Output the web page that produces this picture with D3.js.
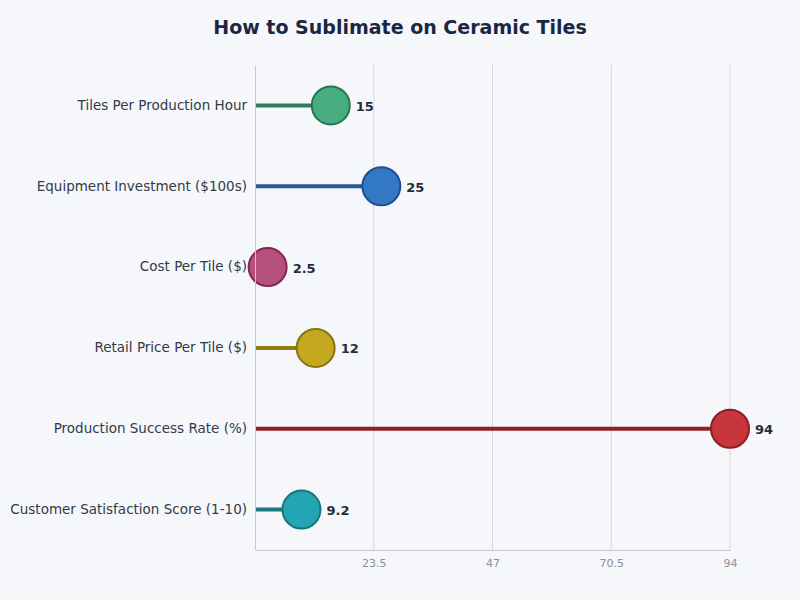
<!DOCTYPE html>
<html><head><meta charset="utf-8">
<script src="https://cdn.jsdelivr.net/npm/d3@7/dist/d3.min.js"></script>
<style>body{margin:0;background:#f5f7fb;font-family:"DejaVu Sans",sans-serif;}</style>
</head><body><svg id="c" width="800" height="600"></svg>
<script>
const categories = ["Tiles Per Production Hour","Equipment Investment ($100s)","Cost Per Tile ($)","Retail Price Per Tile ($)","Production Success Rate (%)","Customer Satisfaction Score (1-10)"];
const values = [15, 25, 2.5, 12, 94, 9.2];
const labels = ["15","25","2.5","12","94","9.2"];
const tickValues = [23.5, 47, 70.5, 94];
const fills = ["#47ad80","#3378c4","#b8507f","#c4a81e","#c8363d","#24a5b4"];
const strokes = ["#25764f","#1f4f8c","#82284f","#8a7410","#8e1e22","#177582"];
const lineColors = ["#2e7d5b","#245b96","#8f3060","#8f7c12","#8c2427","#1b7883"];

const svg = d3.select("#c");
svg.append("rect").attr("width",800).attr("height",600).attr("fill","#f5f7fb");
const m = {l:255, r:730, t:65, b:550};
const x = d3.scaleLinear().domain([0,94]).range([m.l,m.r]);
const y = d3.scaleBand().domain(categories).range([m.t,m.b]);

svg.append("text").attr("x",400).attr("y",34).attr("text-anchor","middle")
  .attr("font-size",19).attr("font-weight","bold").attr("fill","#1a2744").text("How to Sublimate on Ceramic Tiles");

const g = svg.append("g");
g.selectAll("line.grid").data(tickValues).join("line")
  .attr("x1",d=>x(d)).attr("x2",d=>x(d)).attr("y1",m.t).attr("y2",m.b)
  .attr("stroke","#d5d8de").attr("stroke-width",1);

const xa = svg.append("g").attr("transform",`translate(0,${m.b})`)
  .call(d3.axisBottom(x).tickValues(tickValues).tickSize(0).tickPadding(9).tickFormat(d=>String(d)));
xa.select(".domain").attr("stroke","#c4c8cf");
xa.selectAll("text").attr("font-size",11).attr("fill","#8a8f99").attr("font-family","DejaVu Sans");

const ya = svg.append("g").attr("transform",`translate(${m.l},0)`)
  .call(d3.axisLeft(y).tickSize(0).tickPadding(8));
ya.select(".domain").attr("stroke","#c4c8cf");
ya.selectAll("text").attr("font-size",13.5).attr("fill","#333a48").attr("font-family","DejaVu Sans");

const rows = categories.map((c,i)=>({c, v:values[i], l:labels[i], i}));
g.selectAll("line.stem").data(rows).join("line")
  .attr("x1",x(0)).attr("x2",d=>x(d.v)).attr("y1",d=>y(d.c)+y.bandwidth()/2).attr("y2",d=>y(d.c)+y.bandwidth()/2)
  .attr("stroke",d=>lineColors[d.i]).attr("stroke-width",4);
g.selectAll("circle").data(rows).join("circle")
  .attr("cx",d=>x(d.v)).attr("cy",d=>y(d.c)+y.bandwidth()/2).attr("r",19)
  .attr("fill",d=>fills[d.i]).attr("stroke",d=>strokes[d.i]).attr("stroke-width",2);
g.selectAll("text.val").data(rows).join("text")
  .attr("x",d=>x(d.v)+25).attr("y",d=>y(d.c)+y.bandwidth()/2+1).attr("dy","0.35em")
  .attr("font-size",13).attr("font-weight","bold").attr("fill","#252c3c").text(d=>d.l);
</script></body></html>
